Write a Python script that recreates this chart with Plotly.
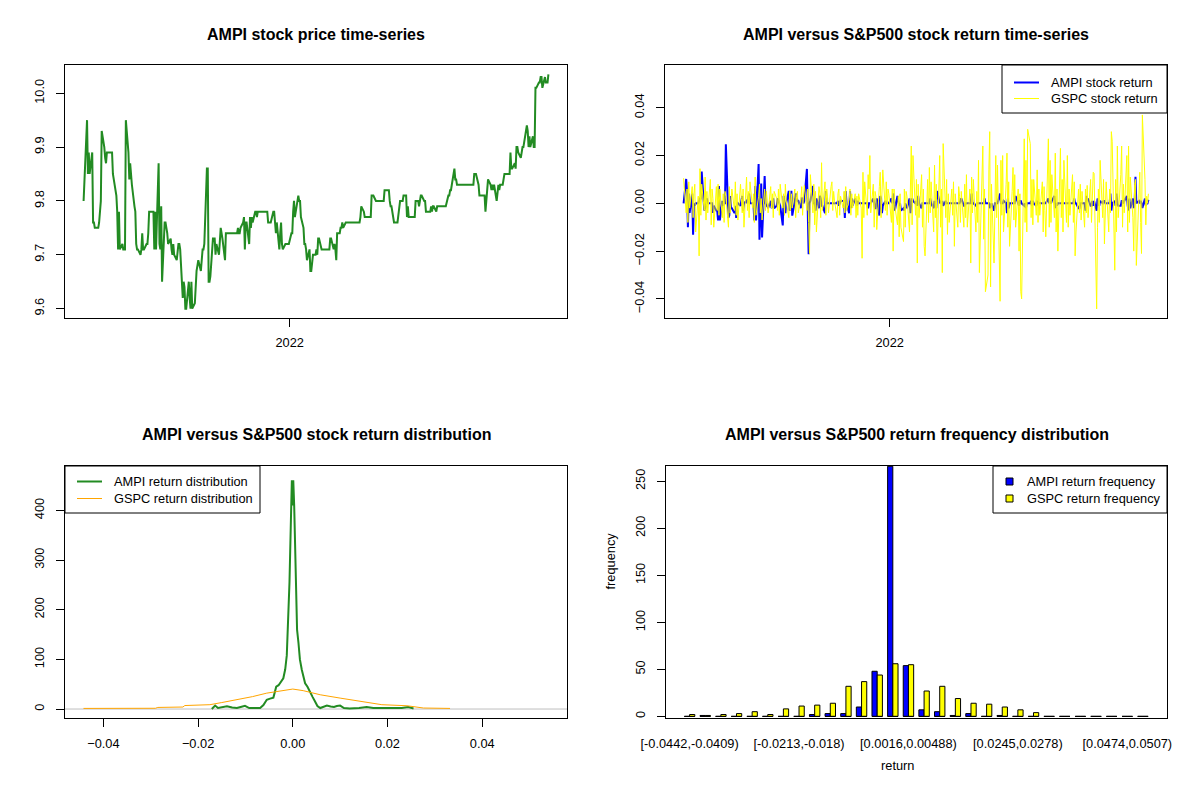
import pandas as pd
import plotly.graph_objects as go

# the page body has an 8px margin, so the figure is a little smaller than the window
PAGE_OFFSET = 8
W, H = 1200 - PAGE_OFFSET, 800 - 2 * PAGE_OFFSET
FONT = "Liberation Sans, Arial, sans-serif"

# AMPI daily close
ampi_price = [
    9.80,
    9.90, 9.95, 9.85, 9.89, 9.85, 9.89,
    9.76, 9.76,
    9.75, 9.75, 9.75,
    9.76, 9.78, 9.80,
    9.93, 9.90, 9.88, 9.87, 9.89,
    9.89, 9.89, 9.89, 9.89,
    9.85, 9.84, 9.81, 9.78,
    9.71, 9.78, 9.71, 9.72,
    9.71, 9.71, 9.71,
    9.95, 9.89, 9.84, 9.87, 9.85, 9.83, 9.79, 9.78,
    9.72, 9.71, 9.71, 9.70, 9.71,
    9.74, 9.71, 9.71, 9.72, 9.72, 9.74,
    9.78, 9.78, 9.78, 9.78,
    9.71, 9.78, 9.71, 9.87, 9.72, 9.71, 9.79, 9.65,
    9.76, 9.76, 9.75, 9.74, 9.72,
    9.73, 9.71, 9.70, 9.72, 9.70, 9.69, 9.71, 9.72, 9.72, 9.71,
    9.62, 9.65, 9.64, 9.60, 9.60, 9.65, 9.62, 9.60, 9.65, 9.60, 9.61, 9.65, 9.67,
    9.68, 9.69, 9.67, 9.69, 9.71, 9.71, 9.72,
    9.86, 9.86,
    9.65, 9.65, 9.66,
    9.73, 9.73, 9.73, 9.70, 9.72, 9.70, 9.73,
    9.75, 9.74, 9.73, 9.69, 9.74, 9.74, 9.74,
    9.74, 9.74, 9.74, 9.74, 9.74, 9.74, 9.74,
    9.75, 9.74, 9.74, 9.75, 9.76, 9.77, 9.71,
    9.76, 9.76, 9.72, 9.77, 9.75, 9.77, 9.76, 9.78,
    9.78, 9.77, 9.78, 9.78, 9.78, 9.78, 9.78, 9.78, 9.78, 9.78,
    9.76, 9.76, 9.76, 9.76,
    9.78, 9.78, 9.76, 9.74, 9.76,
    9.71, 9.74, 9.76, 9.72, 9.71, 9.72, 9.72, 9.72, 9.72, 9.72, 9.74, 9.74, 9.78,
    9.80, 9.77, 9.80, 9.81, 9.80, 9.80, 9.77, 9.75, 9.72, 9.72,
    9.71, 9.69, 9.71, 9.67, 9.67, 9.69, 9.70, 9.70,
    9.71, 9.70, 9.73, 9.73, 9.71,
    9.71, 9.71, 9.71, 9.71, 9.71, 9.71, 9.71,
    9.73, 9.73, 9.71, 9.72, 9.71, 9.69,
    9.74, 9.74, 9.75, 9.75, 9.76, 9.75, 9.76, 9.76, 9.76,
    9.76, 9.76, 9.76, 9.76, 9.76, 9.76, 9.76, 9.76, 9.76, 9.76,
    9.77, 9.79, 9.78, 9.77, 9.77, 9.77, 9.77, 9.77, 9.77, 9.81,
    9.81, 9.81, 9.80, 9.80, 9.80, 9.80, 9.80, 9.80, 9.80, 9.80, 9.82,
    9.82, 9.82, 9.82, 9.80, 9.79, 9.79, 9.76,
    9.76, 9.76, 9.76, 9.76,
    9.80, 9.80, 9.80, 9.80, 9.81,
    9.81, 9.77, 9.79, 9.77, 9.77, 9.77, 9.77, 9.77, 9.77, 9.80,
    9.80, 9.79, 9.80, 9.81, 9.81, 9.80, 9.80, 9.78,
    9.78, 9.78, 9.78, 9.79, 9.78, 9.79, 9.79, 9.78, 9.79, 9.79, 9.79, 9.79, 9.79, 9.79, 9.79, 9.79, 9.79, 9.81,
    9.81, 9.82, 9.82, 9.83, 9.86, 9.84, 9.84, 9.83, 9.83, 9.83,
    9.83, 9.83, 9.83, 9.83, 9.83, 9.83, 9.83, 9.83, 9.83, 9.83, 9.83,
    9.85, 9.85, 9.85, 9.83, 9.81,
    9.81, 9.81, 9.81, 9.81, 9.78, 9.81, 9.82,
    9.84, 9.83, 9.82, 9.83, 9.82, 9.83, 9.80, 9.82, 9.83, 9.82, 9.83, 9.83, 9.84, 9.85, 9.85, 9.85, 9.85, 9.85,
    9.89, 9.86, 9.86, 9.87, 9.86, 9.90, 9.90, 9.89, 9.88, 9.89, 9.90, 9.90, 9.91, 9.94, 9.93, 9.90, 9.92, 9.90, 9.92, 9.90, 9.90,
    10.01, 10.01, 10.02, 10.02, 10.03, 10.03, 10.01, 10.03, 10.02, 10.02, 10.02, 10.035,
]

# S&P500 daily return, estimated from the yellow line
gspc_return = [
    0.0105, -0.004, 0.006, -0.008, 0.009, -0.002, 0.007, -0.006, 0.004, 0.008,
    -0.012, 0.003, -0.022, 0.0145, -0.005, 0.008, -0.003, 0.011, -0.007, 0.005,
    -0.004, 0.010, -0.009, 0.006, 0.002, -0.010, 0.007, -0.003, 0.008, -0.005,
    0.006, -0.006, 0.004, -0.008, 0.005, 0.003, -0.010, 0.007, -0.004, 0.002,
    0.006, -0.003, 0.009, -0.005, 0.004, -0.007, 0.008, 0.002, -0.004, 0.006,
    -0.010, 0.011, -0.003, 0.005, -0.006, 0.009, -0.002, 0.004, -0.008, 0.011,
    -0.005, 0.003, 0.008, -0.004, 0.002, -0.007, 0.006, -0.003, 0.005, 0.001,
    -0.004, 0.007, -0.002, 0.004, -0.006, 0.005, 0.002, -0.003, 0.006, -0.005,
    0.008, -0.002, 0.004, -0.005, 0.008, 0.001, -0.006, 0.005, -0.003, 0.004,
    -0.002, 0.006, -0.006, 0.003, 0.005, -0.004, 0.002, 0.007, -0.005, 0.003,
    0.0075, -0.003, 0.006, -0.008, -0.021, 0.012, -0.004, 0.008, -0.009, 0.005,
    -0.012, 0.007, 0.004, -0.006, 0.017, -0.003, 0.009, -0.005, 0.006, 0.002,
    -0.004, 0.007, 0.009, -0.003, 0.005, 0.001, -0.006, 0.004, 0.006, -0.005,
    0.003, -0.002, 0.005, -0.004, 0.007, -0.003, 0.002, 0.006, -0.005, 0.004,
    -0.002, 0.004, -0.006, 0.003, -0.005, 0.004, -0.002, -0.023, 0.013, -0.006,
    0.009, -0.005, 0.012, 0.006, 0.020, -0.004, 0.008, -0.010, 0.005, 0.003,
    -0.011, 0.007, 0.013, -0.006, 0.010, 0.014, -0.003, 0.009, -0.005, 0.006,
    0.004, -0.008, 0.006, -0.020, 0.006, -0.001, -0.009, 0.003, -0.014, 0.004,
    -0.010, -0.016, 0.006, -0.010, 0.005, 0.003, -0.012, 0.008, 0.024, -0.009,
    0.020, -0.005, 0.010, -0.025, 0.008, -0.006, 0.012, -0.010, 0.006, -0.018,
    -0.022, 0.010, -0.008, 0.015, -0.004, 0.009, -0.012, 0.016, -0.006, 0.008,
    -0.021, 0.020, -0.010, 0.006, -0.029, 0.025, -0.006, 0.010, -0.013, 0.004,
    -0.008, 0.006, -0.005, 0.009, -0.018, 0.004, -0.010, 0.007, 0.003, -0.008,
    0.005, -0.010, 0.008, -0.006, 0.012, -0.010, 0.006, -0.025, 0.011, -0.004,
    0.010, -0.012, 0.005, -0.008, 0.018, -0.029, 0.012, 0.024, -0.015, 0.006,
    -0.037, -0.030, 0.014, 0.030, -0.035, 0.008, -0.025, 0.010, 0.020, -0.006,
    0.016, -0.041, 0.018, -0.005, 0.020, -0.012, 0.008, 0.021, -0.010, 0.009,
    -0.018, 0.005, 0.015, -0.007, 0.012, -0.010, 0.006, -0.020, 0.004, -0.037,
    -0.040, 0.027, -0.008, 0.018, -0.012, 0.031, 0.025, -0.006, 0.010, -0.009,
    0.010, -0.005, 0.014, -0.008, 0.006, -0.005, 0.009, -0.012, 0.007, -0.003,
    -0.014, 0.027, -0.010, 0.018, -0.008, 0.012, -0.006, 0.021, -0.012, 0.006,
    -0.020, 0.023, -0.006, 0.010, -0.012, 0.018, -0.008, 0.020, -0.010, 0.006,
    -0.005, 0.012, -0.008, 0.009, -0.022, -0.012, 0.006, -0.004, 0.008, -0.007,
    0.005, -0.010, 0.006, -0.004, 0.0075, -0.006, 0.010, -0.008, 0.006, 0.013,
    0.0125, -0.0442, -0.010, 0.006, -0.008, 0.018, -0.006, 0.010, -0.017, 0.004,
    0.009, -0.012, 0.006, -0.004, 0.030, 0.026, -0.028, 0.010, -0.012, 0.024,
    -0.006, 0.012, 0.024, -0.010, 0.008, -0.004, 0.020, -0.012, 0.024, -0.008,
    0.011, -0.006, -0.020, 0.008, 0.010, -0.026, 0.005, 0.013, -0.008, -0.021,
    0.037, 0.010, -0.009, 0.003, 0.000, 0.004,
]

# return density curves (bottom-left)
ampi_dens_x = [-0.0171, -0.0164, -0.0158, -0.0150, -0.0139, -0.0128, -0.0118, -0.0110, -0.0101,
               -0.0092, -0.0080, -0.0069, -0.0062, -0.0055, -0.0048, -0.0041, -0.0035, -0.0030,
               -0.0020, -0.0016, -0.00127, -0.0010, -0.0007, -0.0004, -0.0002, 0.0000, 0.0001,
               0.0003, 0.0005, 0.0007, 0.0009, 0.0012, 0.0015, 0.0019, 0.0026, 0.0031, 0.0037,
               0.0042, 0.0047, 0.0052, 0.0058, 0.0065, 0.0072, 0.0080, 0.0087, 0.0093, 0.0100,
               0.0108, 0.0120, 0.0140, 0.0156, 0.0170, 0.0200, 0.0230, 0.0244, 0.0255]
ampi_dens_y = [0, 7, 2, 3, 5.6, 3, 2, 4, 6.3,
               2, 1.5, 2, 8, 18.7, 21, 23, 45, 48,
               62, 80, 108, 180, 255, 380, 461, 410, 461,
               407, 310, 207, 160, 133, 100, 79, 52, 45, 32,
               24, 15, 6, 2, 4, 7, 5, 4, 6, 7,
               2, 1, 2, 4, 2, 1.5, 2, 4, 1]
gspc_dens_x = [-0.0442, -0.0360, -0.0290, -0.0285, -0.0232, -0.0228, -0.0175, -0.0150, -0.0118,
               -0.0085, -0.0055, -0.0025, 0.0000, 0.0022, 0.0058, 0.0100, 0.0149, 0.0188,
               0.0241, 0.0260, 0.0276, 0.0332]
gspc_dens_y = [1.2, 1.3, 1.5, 3.2, 4, 7, 8.7, 13, 18.7,
               25, 32, 37, 40.2, 37, 28.7, 22, 15.4, 8.7,
               6.6, 4, 2, 1.2]

# return frequency table (bottom-right), 30 bins
bin_number = list(range(1, 31))
ampi_freq = [0, 1, 0, 0, 0, 0, 0, 0, 2, 3, 3, 10, 48, 266, 54,
             7, 5, 1, 3, 0, 1, 0, 0, 0, 0, 0, 0, 0, 0, 0]
gspc_freq = [2, 1, 2, 3, 5, 2, 8, 11, 12, 14, 32, 37, 44, 56, 55,
             27, 32, 19, 14, 13, 10, 7, 4, 0, 0, 0, 0, 0, 0, 0]
bin_tick_pos = [1, 8, 15, 22, 29]
bin_tick_text = ['[-0.0442,-0.0409)', '[-0.0213,-0.018)', '[0.0016,0.00488)',
                 '[0.0245,0.0278)', '[0.0474,0.0507)']

dates = pd.bdate_range('2021-05-07', periods=max(len(ampi_price), len(gspc_return)))
price = pd.Series(ampi_price, index=dates[:len(ampi_price)])
ampi_return = price.pct_change().fillna(0)
gspc_dates = dates[:len(gspc_return)]

# plot boxes in window pixels: left, right, top, bottom
TL = (65, 567, 65, 318)
TR = (665, 1167, 65, 318)
BL = (65, 567, 466, 718)
BR = (666, 1167, 466, 718)


def px(x):
    return (x - PAGE_OFFSET) / W


def py(y):
    return 1 - (y - PAGE_OFFSET) / H


def dom_x(b):
    return [px(b[0]), px(b[1])]


def dom_y(b):
    return [py(b[3]), py(b[2])]


tick_font = dict(family=FONT, size=12.8, color='black')
axis_style = dict(showline=True, mirror=True, linecolor='black', linewidth=1,
                  ticks='outside', ticklen=8, tickwidth=1, tickcolor='black',
                  showgrid=False, zeroline=False, tickfont=tick_font, automargin=False)

span = price.index[-1] - price.index[0]
date_range = [price.index[0] - span * 0.04, price.index[-1] + span * 0.04]

fig = go.Figure()

# top-left: price
fig.add_trace(go.Scatter(x=price.index, y=price.values, mode='lines',
                         line=dict(color='#228B22', width=2),
                         xaxis='x', yaxis='y', showlegend=False))

# top-right: returns
fig.add_trace(go.Scatter(x=ampi_return.index, y=ampi_return.values, mode='lines',
                         line=dict(color='#0000FF', width=2),
                         xaxis='x2', yaxis='y2', showlegend=False))
fig.add_trace(go.Scatter(x=gspc_dates, y=gspc_return, mode='lines',
                         line=dict(color='#FFFF00', width=1),
                         xaxis='x2', yaxis='y2', showlegend=False))

# bottom-left: densities
fig.add_trace(go.Scatter(x=ampi_dens_x, y=ampi_dens_y, mode='lines',
                         line=dict(color='#228B22', width=2),
                         xaxis='x3', yaxis='y3', showlegend=False))
fig.add_trace(go.Scatter(x=gspc_dens_x, y=gspc_dens_y, mode='lines',
                         line=dict(color='#FFA500', width=1),
                         xaxis='x3', yaxis='y3', showlegend=False))

# bottom-right: frequency bars
fig.add_trace(go.Bar(x=bin_number, y=ampi_freq, marker=dict(color='#0000FF', line=dict(color='black', width=1)),
                     xaxis='x4', yaxis='y4', showlegend=False))
fig.add_trace(go.Bar(x=bin_number, y=gspc_freq, marker=dict(color='#FFFF00', line=dict(color='black', width=1)),
                     xaxis='x4', yaxis='y4', showlegend=False))
# bottom edges of the bars (R outlines empty bars too)
base_x, base_y = [], []
for b in bin_number:
    base_x += [b - 1 / 3, b + 1 / 3, None]
    base_y += [0, 0, None]
fig.add_trace(go.Scatter(x=base_x, y=base_y, mode='lines', line=dict(color='black', width=1),
                         xaxis='x4', yaxis='y4', showlegend=False, hoverinfo='skip'))

fig.update_layout(
    width=W, height=H, margin=dict(l=0, r=0, t=0, b=0, autoexpand=False),
    paper_bgcolor='white', plot_bgcolor='white',
    font=dict(family=FONT, size=12.8, color='black'),
    barmode='group', bargap=1 / 3, bargroupgap=0,
    xaxis=dict(axis_style, domain=dom_x(TL), anchor='y', type='date', range=date_range,
               tickvals=['2022-01-01'], ticktext=['2022'], ticklabelstandoff=5),
    yaxis=dict(axis_style, domain=dom_y(TL), anchor='x', range=[9.5826, 10.0524],
               tickvals=[9.6, 9.7, 9.8, 9.9, 10.0], tickformat='.1f', tickangle=-90,
               ticklabelstandoff=7),
    xaxis2=dict(axis_style, domain=dom_x(TR), anchor='y2', type='date', range=date_range,
                tickvals=['2022-01-01'], ticktext=['2022'], ticklabelstandoff=5),
    yaxis2=dict(axis_style, domain=dom_y(TR), anchor='x2', range=[-0.048, 0.0579],
                tickvals=[-0.04, -0.02, 0, 0.02, 0.04], tickformat='.2f', tickangle=-90,
                ticklabelstandoff=7),
    xaxis3=dict(axis_style, domain=dom_x(BL), anchor='y3', range=[-0.0481, 0.0579],
                tickvals=[-0.04, -0.02, 0, 0.02, 0.04], tickformat='.2f', ticklabelstandoff=6),
    yaxis3=dict(axis_style, domain=dom_y(BL), anchor='x3', range=[-18.1, 489.6],
                tickvals=[0, 100, 200, 300, 400], tickangle=-90, ticklabelstandoff=7),
    xaxis4=dict(axis_style, domain=dom_x(BR), anchor='y4', range=[-0.51, 31.54],
                ticks='', tickvals=bin_tick_pos, ticktext=bin_tick_text, ticklabelstandoff=14),
    yaxis4=dict(axis_style, domain=dom_y(BR), anchor='x4', range=[-1.7, 266.3],
                tickvals=[0, 50, 100, 150, 200, 250], tickangle=-90, ticklabelstandoff=7),
)

# density zero line
fig.add_shape(type='line', xref='x3 domain', yref='y3', x0=0, x1=1, y0=0, y1=0,
              line=dict(color='#BEBEBE', width=1), layer='below')

# titles and axis labels
title_font = dict(family=FONT, size=16, color='black')
titles = [
    ('AMPI stock price time-series', TL, 35),
    ('AMPI versus S&P500 stock return time-series', TR, 35),
    ('AMPI versus S&P500 stock return distribution', BL, 435),
    ('AMPI versus S&P500 return frequency distribution', BR, 435),
]
for text, box, ty in titles:
    fig.add_annotation(x=px((box[0] + box[1]) / 2), y=py(ty), xref='paper', yref='paper',
                       text='<b>' + text + '</b>', showarrow=False, font=title_font,
                       xanchor='center', yanchor='middle')

fig.add_annotation(x=px(610), y=py(592), xref='paper', yref='paper', text='frequency',
                   textangle=-90, showarrow=False, font=tick_font)
fig.add_annotation(x=px(916), y=py(775), xref='paper', yref='paper', text='return',
                   showarrow=False, font=tick_font)


# hand-drawn legends in the R style
def legend_box(x0, x1, y0, y1):
    fig.add_shape(type='rect', xref='paper', yref='paper', x0=px(x0), x1=px(x1), y0=py(y1), y1=py(y0),
                  line=dict(color='black', width=1), fillcolor='white', layer='above')


def legend_text(x, y, text):
    fig.add_annotation(x=px(x), y=py(y), xref='paper', yref='paper', text=text, showarrow=False,
                       font=tick_font, xanchor='left', yanchor='middle')


def legend_line(x0, x1, y, color, width):
    fig.add_shape(type='line', xref='paper', yref='paper', x0=px(x0), x1=px(x1), y0=py(y), y1=py(y),
                  line=dict(color=color, width=width), layer='above')


def legend_square(x, y, color):
    fig.add_shape(type='rect', xref='paper', yref='paper', x0=px(x - 3.5), x1=px(x + 3.5),
                  y0=py(y + 3.5), y1=py(y - 3.5), fillcolor=color,
                  line=dict(color='black', width=1), layer='above')


legend_box(1002, 1167, 65, 113)
legend_line(1014, 1039, 82.5, '#0000FF', 2)
legend_line(1014, 1039, 98.5, '#FFFF00', 1)
legend_text(1049, 82.5, 'AMPI stock return')
legend_text(1049, 98.5, 'GSPC stock return')

legend_box(65, 260, 466, 513)
legend_line(77, 102, 481.5, '#228B22', 2)
legend_line(77, 102, 498.5, '#FFA500', 1)
legend_text(112, 481.5, 'AMPI return distribution')
legend_text(112, 498.5, 'GSPC return distribution')

legend_box(993, 1167, 466, 513)
legend_square(1009.5, 481.5, '#0000FF')
legend_square(1009.5, 498.5, '#FFFF00')
legend_text(1025, 481.5, 'AMPI return frequency')
legend_text(1025, 498.5, 'GSPC return frequency')

fig.write_html("out.html")
